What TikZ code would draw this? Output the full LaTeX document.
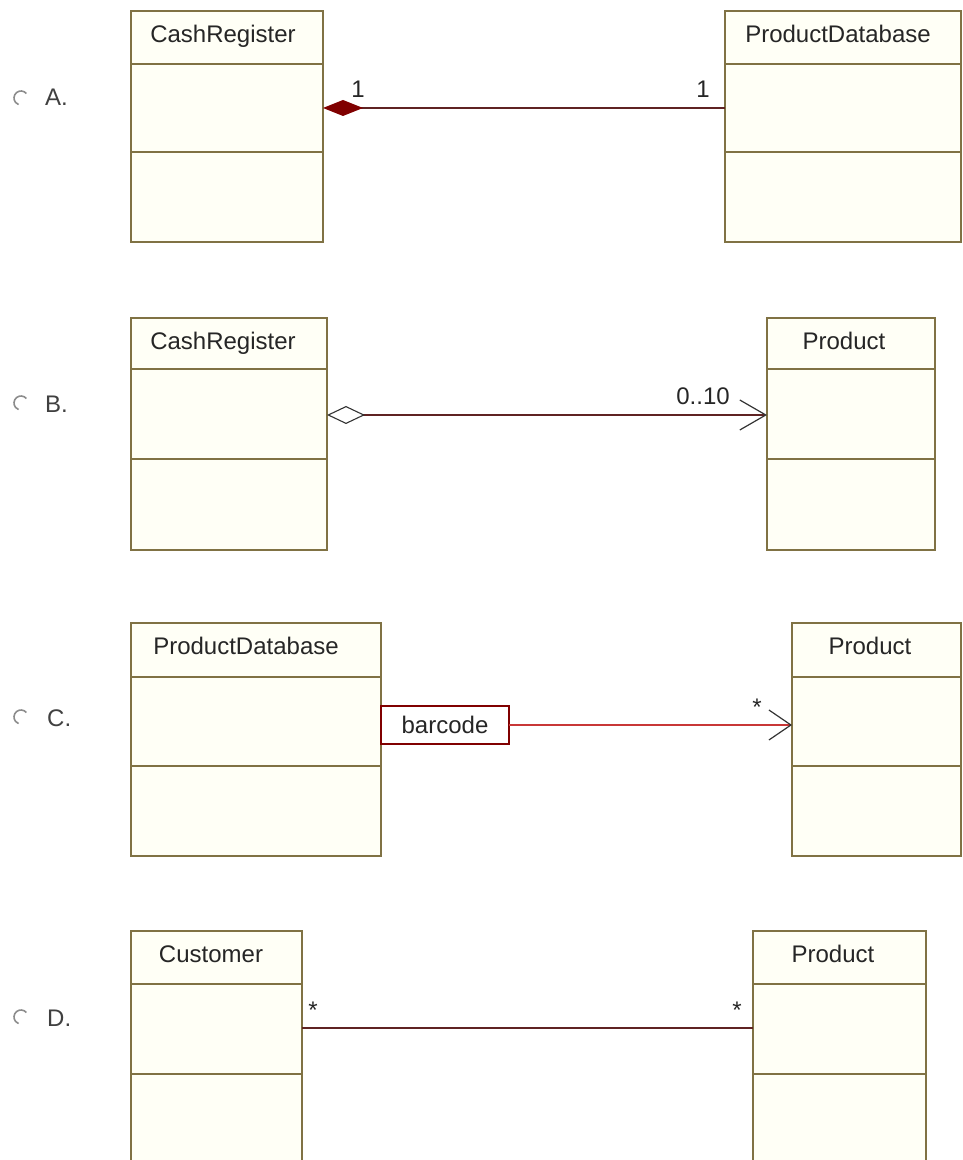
\documentclass[tikz,border=0pt]{standalone}
\usepackage{fontspec}
\setmainfont{Liberation Sans}
\usetikzlibrary{arrows.meta}
\definecolor{classborder}{RGB}{128,114,68}
\definecolor{classfill}{RGB}{255,255,246}
\definecolor{linkdark}{RGB}{95,35,35}
\definecolor{diamondred}{RGB}{128,0,0}
\definecolor{qualred}{RGB}{200,55,55}
\begin{document}
\begin{tikzpicture}[x=1pt, y=1pt,
    classbox/.style={draw=classborder, fill=classfill, line width=1.3pt,
        inner sep=0, outer sep=0, anchor=north west},
    divider/.style={draw=classborder, line width=1.3pt},
    classname/.style={anchor=base, inner sep=0, text=black!85,
        font=\fontsize{24}{28}\selectfont},
    mult/.style={anchor=base, inner sep=0, text=black!85,
        font=\fontsize{24}{28}\selectfont},
    choice/.style={anchor=base west, inner sep=0, text=black!75,
        font=\fontsize{24}{28}\selectfont},
    radiobtn/.style={circle, minimum size=14pt, inner sep=0, outer sep=0},
    radioarc/.style={draw=black!45, line width=1.6pt},
    link/.style={draw=linkdark, line width=1.4pt},
    qualline/.style={draw=qualred, line width=1.4pt},
    qualifier/.style={draw=diamondred, fill=white, line width=1.3pt,
        inner sep=0, outer sep=0, text=black!85,
        font=\fontsize{24}{28}\selectfont}]
    \useasboundingbox (0,0) rectangle (963,1160);
    \clip (0,0) rectangle (963,1160);

    % A
    \node[radiobtn] (rA) at (21,1062) {};
    \draw[radioarc] (rA.40) arc[start angle=40, end angle=250, radius=7pt];
    \node[choice] (optA) at (45,1054) {A.};
    \node[classbox, minimum width=192pt, minimum height=231pt] (crA) at (131,1149) {};
    \draw[divider] (crA.west |- 0,1096) -- (crA.east |- 0,1096);
    \draw[divider] (crA.west |- 0,1008) -- (crA.east |- 0,1008);
    \node[classname] (crAt) at (223,1117) {CashRegister};
    \node[classbox, minimum width=236pt, minimum height=231pt] (pdA) at (725,1149) {};
    \draw[divider] (pdA.west |- 0,1096) -- (pdA.east |- 0,1096);
    \draw[divider] (pdA.west |- 0,1008) -- (pdA.east |- 0,1008);
    \node[classname] (pdAt) at (838,1117) {ProductDatabase};
    \draw[link, {Diamond[color=diamondred, length=40pt, width=16pt]}-]
        (crA.east |- 0,1052) -- (pdA.west |- 0,1052);
    \node[mult] (mA1) at (358,1062) {1};
    \node[mult] (mA2) at (703,1062) {1};

    % B
    \node[radiobtn] (rB) at (21,757) {};
    \draw[radioarc] (rB.40) arc[start angle=40, end angle=250, radius=7pt];
    \node[choice] (optB) at (45,747) {B.};
    \node[classbox, minimum width=196pt, minimum height=232pt] (crB) at (131,842) {};
    \draw[divider] (crB.west |- 0,791) -- (crB.east |- 0,791);
    \draw[divider] (crB.west |- 0,701) -- (crB.east |- 0,701);
    \node[classname] (crBt) at (223,810) {CashRegister};
    \node[classbox, minimum width=168pt, minimum height=232pt] (pB) at (767,842) {};
    \draw[divider] (pB.west |- 0,791) -- (pB.east |- 0,791);
    \draw[divider] (pB.west |- 0,701) -- (pB.east |- 0,701);
    \node[classname] (pBt) at (844,810) {Product};
    \draw[link, {Diamond[open, color=black!80, length=38pt, width=18pt, line width=1.1pt]}-{Straight Barb[color=black!80, length=26pt, width=30pt, line width=1.2pt]}]
        (crB.east |- 0,745) -- (pB.west |- 0,745);
    \node[mult] (mB) at (703,755) {0..10};

    % C
    \node[radiobtn] (rC) at (21,443) {};
    \draw[radioarc] (rC.40) arc[start angle=40, end angle=250, radius=7pt];
    \node[choice] (optC) at (47,433) {C.};
    \node[classbox, minimum width=250pt, minimum height=233pt] (pdC) at (131,537) {};
    \draw[divider] (pdC.west |- 0,483) -- (pdC.east |- 0,483);
    \draw[divider] (pdC.west |- 0,394) -- (pdC.east |- 0,394);
    \node[classname] (pdCt) at (246,505) {ProductDatabase};
    \node[classbox, minimum width=169pt, minimum height=233pt] (pC) at (792,537) {};
    \draw[divider] (pC.west |- 0,483) -- (pC.east |- 0,483);
    \draw[divider] (pC.west |- 0,394) -- (pC.east |- 0,394);
    \node[classname] (pCt) at (870,505) {Product};
    \node[qualifier, minimum width=128pt, minimum height=38pt] (bc) at (445,435) {barcode};
    \draw[qualline, -{Straight Barb[color=black!80, length=22pt, width=30pt, line width=1.2pt]}]
        (bc.east) -- (pC.west |- bc.east);
    \node[mult] (mC) at (757,444) {*};

    % D
    \node[radiobtn] (rD) at (21,143) {};
    \draw[radioarc] (rD.40) arc[start angle=40, end angle=250, radius=7pt];
    \node[choice] (optD) at (47,133) {D.};
    \node[classbox, minimum width=171pt, minimum height=280pt] (cuD) at (131,229) {};
    \draw[divider] (cuD.west |- 0,176) -- (cuD.east |- 0,176);
    \draw[divider] (cuD.west |- 0,86) -- (cuD.east |- 0,86);
    \node[classname] (cuDt) at (211,197) {Customer};
    \node[classbox, minimum width=173pt, minimum height=280pt] (pD) at (753,229) {};
    \draw[divider] (pD.west |- 0,176) -- (pD.east |- 0,176);
    \draw[divider] (pD.west |- 0,86) -- (pD.east |- 0,86);
    \node[classname] (pDt) at (833,197) {Product};
    \draw[link] (cuD.east |- 0,132) -- (pD.west |- 0,132);
    \node[mult] (mD1) at (313,141) {*};
    \node[mult] (mD2) at (737,141) {*};
\end{tikzpicture}
\end{document}
